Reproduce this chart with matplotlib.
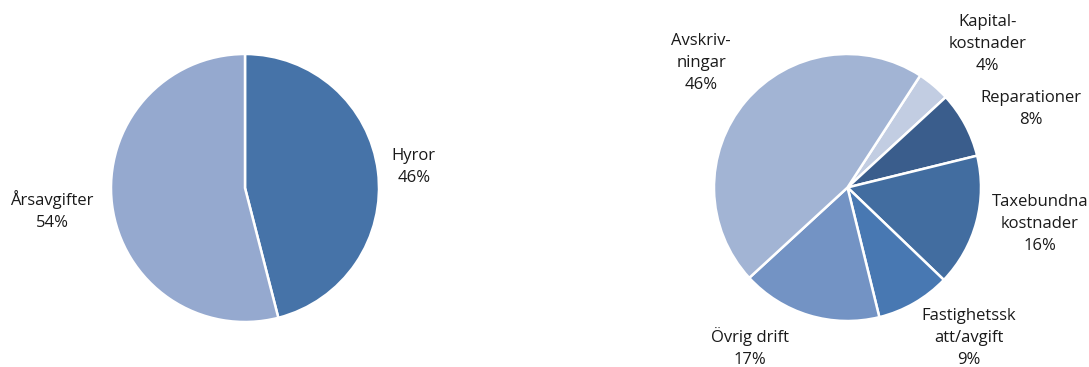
import matplotlib
matplotlib.use("Agg")
import matplotlib.pyplot as plt

# left pie: income
inc_labels = ["Hyror", "Årsavgifter"]
inc_values = [46, 54]
inc_colors = ["#4673a8", "#95a9cf"]

# right pie: costs
cost_labels = ["Kapital-\nkostnader", "Reparationer", "Taxebundna\nkostnader",
               "Fastighetssk\natt/avgift", "Övrig drift", "Avskriv-\nningar"]
cost_values = [4, 8, 16, 9, 17, 46]
cost_colors = ["#c2cde2", "#3a5d8c", "#426da0", "#4878b2", "#7393c4", "#a2b4d4"]

# label positions in pie-radius units
inc_pos = [(1.26, 0.16), (-1.44, -0.17)]
cost_pos = [(1.05, 1.075), (1.375, 0.588), (1.442, -0.273),
            (0.91, -1.127), (-0.73, -1.199), (-1.097, 0.933)]

plt.rcParams['font.family'] = ['Open Sans', 'DejaVu Sans']

W, H = 1089, 367
fig = plt.figure(figsize=(W / 100, H / 100), dpi=100)

def make_ax(cx, cy, r):
    return fig.add_axes([(cx - r) / W, 1 - (cy + r) / H, 2 * r / W, 2 * r / H])

def draw(ax, values, labels, colors, pos, start):
    ax.pie(values, colors=colors, startangle=start, counterclock=False,
           radius=1, wedgeprops=dict(edgecolor="white", linewidth=1.8))
    for (x, y), lab, v in zip(pos, labels, values):
        ax.text(x, y, "%s\n%d%%" % (lab, v), ha="center", va="center",
                fontsize=12, color="#1a1a1a", linespacing=1.5, clip_on=False)
    ax.set_xlim(-1, 1)
    ax.set_ylim(-1, 1)
    ax.set_aspect("equal")
    ax.axis("off")

ax1 = make_ax(245, 188, 134)
draw(ax1, inc_values, inc_labels, inc_colors, inc_pos, 90)

ax2 = make_ax(847.5, 187.5, 133.5)
draw(ax2, cost_values, cost_labels, cost_colors, cost_pos, 57)

fig.savefig("out.png", dpi=100)
